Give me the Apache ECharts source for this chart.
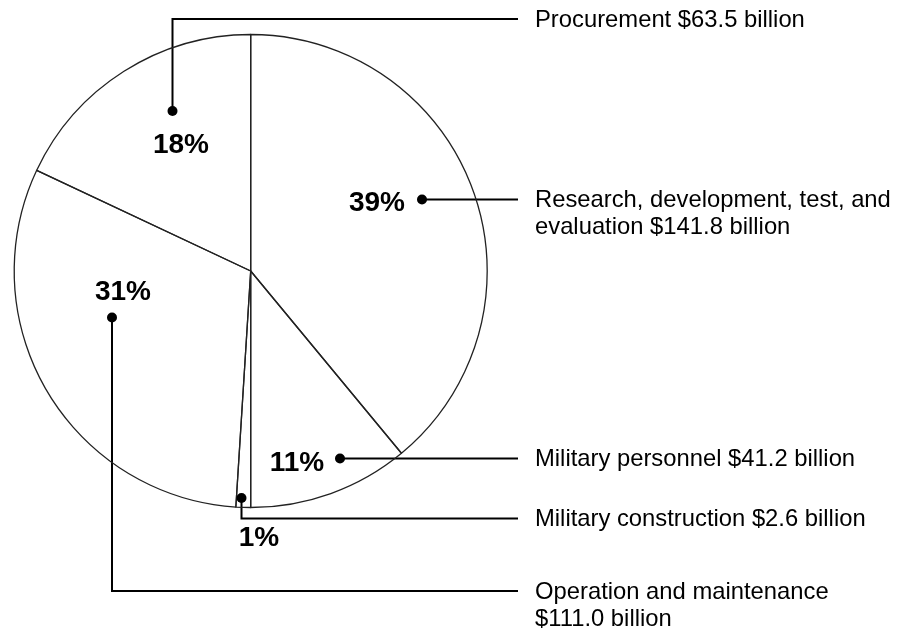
<!DOCTYPE html>
<html>
<head>
<meta charset="utf-8">
<script src="https://cdn.jsdelivr.net/npm/echarts@6/dist/echarts.min.js"></script>
<style>
html, body { margin: 0; padding: 0; background: #ffffff; }
#chart { width: 904px; height: 634px; }
</style>
</head>
<body>
<div id="chart"></div>
<script>
// ---- Data (clockwise from 12 o'clock) ----
const categories = [
  'Research, development, test, and evaluation',
  'Military personnel',
  'Military construction',
  'Operation and maintenance',
  'Procurement'
];
const shares = [39, 11, 1, 31, 18];                 // percent of total
const amounts = ['141.8', '41.2', '2.6', '111.0', '63.5']; // $ billion
const outerLabels = [
  'Research, development, test, and\nevaluation $141.8 billion',
  'Military personnel $41.2 billion',
  'Military construction $2.6 billion',
  'Operation and maintenance\n$111.0 billion',
  'Procurement $63.5 billion'
];

// ---- Layout (annotation placement, pixels) ----
const FONT = '"Liberation Sans", Arial, Helvetica, sans-serif';
const PIE_CENTER = [250.7, 271];
const PIE_RADIUS = 236.5;
const TEXT_X = 535;
const LINE_END_X = 518;
const LINE_H = 27;
const pctPos = [[377, 203], [297, 463], [259, 538], [123, 292], [181, 145]];
const dotPos = [[422, 199.5], [340, 458.5], [241.5, 498], [112, 317.5], [172.5, 111]];
const leaderY = [199.5, 458.5, 518.5, 591, 19];

function leaderPoints(i) {
  const d = dotPos[i];
  const y = leaderY[i];
  return [[d[0], d[1]], [d[0], y], [LINE_END_X, y]];
}

const pieData = categories.map((n, i) => ({ name: n, value: shares[i] }));

const chart = echarts.init(document.getElementById('chart'), null, { renderer: 'canvas' });
chart.setOption({
  animation: false,
  backgroundColor: '#ffffff',
  tooltip: { show: false },
  series: [
    {
      type: 'pie',
      center: PIE_CENTER,
      radius: PIE_RADIUS,
      startAngle: 90,
      clockwise: true,
      avoidLabelOverlap: false,
      silent: true,
      data: pieData,
      itemStyle: { color: 'rgba(255,255,255,0)', borderColor: '#222222', borderWidth: 1.3 },
      emphasis: { disabled: true },
      label: {
        show: true,
        position: 'outside',
        formatter: p => outerLabels[p.dataIndex],
        fontFamily: FONT,
        fontSize: 23.8,
        lineHeight: LINE_H,
        color: '#000000'
      },
      labelLine: { show: true, smooth: false, lineStyle: { color: '#000000', width: 2 } },
      labelLayout: p => ({
        x: TEXT_X,
        y: leaderY[p.dataIndex] + 1 - LINE_H / 2,
        align: 'left',
        verticalAlign: 'top',
        labelLinePoints: leaderPoints(p.dataIndex)
      })
    },
    {
      type: 'pie',
      center: PIE_CENTER,
      radius: PIE_RADIUS,
      startAngle: 90,
      clockwise: true,
      avoidLabelOverlap: false,
      silent: true,
      data: pieData,
      itemStyle: { color: 'rgba(0,0,0,0)', borderWidth: 0 },
      emphasis: { disabled: true },
      label: {
        show: true,
        position: 'outside',
        formatter: p => shares[p.dataIndex] + '%',
        fontFamily: FONT,
        fontWeight: 'bold',
        fontSize: 28,
        color: '#000000'
      },
      labelLine: { show: false },
      labelLayout: p => ({
        x: pctPos[p.dataIndex][0],
        y: pctPos[p.dataIndex][1],
        align: 'center',
        verticalAlign: 'middle'
      })
    }
  ],
  graphic: dotPos.map(d => ({
    type: 'circle',
    silent: true,
    z: 100,
    shape: { cx: d[0], cy: d[1], r: 5 },
    style: { fill: '#000000' }
  }))
});
</script>
</body>
</html>
